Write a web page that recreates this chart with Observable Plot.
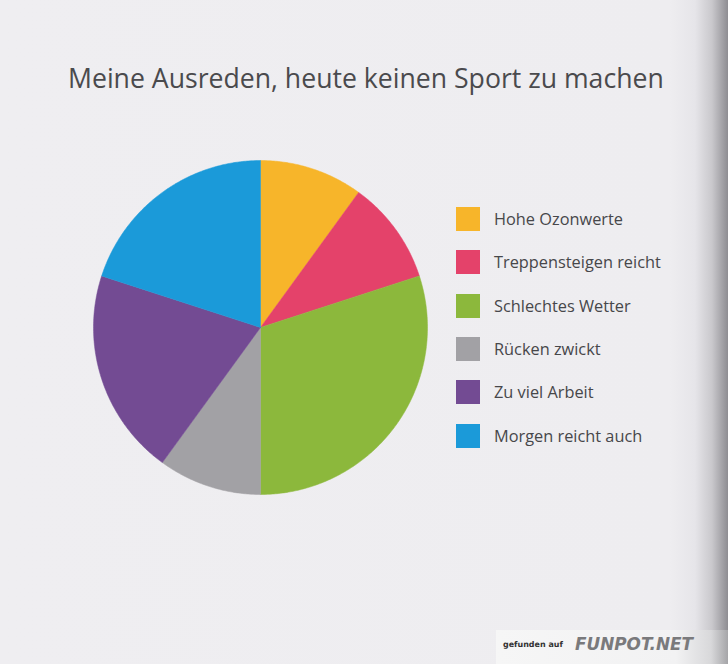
<!DOCTYPE html>
<html>
<head>
<meta charset="utf-8">
<script src="https://cdn.jsdelivr.net/npm/d3@7"></script>
<script src="https://cdn.jsdelivr.net/npm/@observablehq/plot@0.6"></script>
<style>
  html, body { margin: 0; padding: 0; }
  #page {
    position: relative; width: 728px; height: 664px; overflow: hidden;
    background: linear-gradient(to right, #efeef1 0px, #eeedf0 670px, #e6e5e9 695px, #c9c8cc 712px, #8e8d92 728px);
    font-family: "Open Sans", sans-serif;
  }
  #title { position: absolute; left: 68px; top: 60px; color: #4a4a4d; white-space: nowrap; font-size: 28px; }
  #chart { position: absolute; left: 0; top: 0; }
  .lg { position: absolute; left: 456px; display: flex; align-items: center; white-space: nowrap; }
  .sw { width: 24px; height: 24px; margin-right: 14px; }
  .lt { color: #47474a; font-size: 17px; }
  #wm { position: absolute; left: 496px; top: 630px; width: 232px; height: 34px; background: linear-gradient(to right, #f6f6f6 0px, #f2f2f3 180px, #d8d8da 215px, #a5a5a8 232px); }
  #wm1 { position: absolute; left: 7px; top: 10px; font: bold 11px "DejaVu Sans", sans-serif; color: #333; white-space: nowrap; }
  #wm2 { position: absolute; left: 79px; top: 4px; font: italic bold 17px "DejaVu Sans", sans-serif; color: #7a7a7c; white-space: nowrap; }
</style>
</head>
<body>
<div id="page">
  <div id="title">Meine Ausreden, heute keinen Sport zu machen</div>
  <div id="chart"></div>
  <div id="legend"></div>
  <div id="wm"><span id="wm1">gefunden auf</span><span id="wm2">FUNPOT.NET</span></div>
</div>
<script>
const categories = ["Hohe Ozonwerte", "Treppensteigen reicht", "Schlechtes Wetter", "Rücken zwickt", "Zu viel Arbeit", "Morgen reicht auch"];
const values = [10, 10, 30, 10, 20, 20];
const colors = ["#f7b52a", "#e4426a", "#8cb83c", "#a2a1a5", "#734b93", "#1b9ad9"];

// pie angles from the data
const arcs = d3.pie().sort(null).value((d, i) => values[i])(categories);
const pts = [];
arcs.forEach((a, i) => {
  const key = categories[i];
  pts.push({key, x: 0, y: 0});
  const n = Math.max(2, Math.ceil((a.endAngle - a.startAngle) / 0.01));
  for (let k = 0; k <= n; k++) {
    const t = a.startAngle + (a.endAngle - a.startAngle) * k / n;
    pts.push({key, x: Math.sin(t), y: Math.cos(t)});
  }
  pts.push({key, x: 0, y: 0});
});

const chart = Plot.plot({
  width: 728, height: 664,
  margin: 0,
  style: {background: "transparent"},
  x: {domain: [-1, 1], range: [93, 427], axis: null},
  y: {domain: [-1, 1], range: [494, 160], axis: null},
  color: {type: "ordinal", domain: categories, range: colors},
  marks: [
    Plot.line(pts, {x: "x", y: "y", z: "key", fill: "key", stroke: "key", strokeWidth: 0.5, curve: "linear"})
  ]
});
document.getElementById("chart").appendChild(chart);

// legend
const legend = document.getElementById("legend");
categories.forEach((c, i) => {
  const row = document.createElement("div");
  row.className = "lg";
  row.style.top = (207 + i * 43.3) + "px";
  row.style.height = "24px";
  const sw = document.createElement("div");
  sw.className = "sw";
  sw.style.background = colors[i];
  const t = document.createElement("span");
  t.className = "lt";
  t.textContent = c;
  row.appendChild(sw); row.appendChild(t);
  legend.appendChild(row);
});

// fit text widths to the reference
function fit(el, target) {
  const w = el.getBoundingClientRect().width;
  const fs = parseFloat(getComputedStyle(el).fontSize);
  el.style.fontSize = (fs * target / w) + "px";
}
fit(document.getElementById("title"), 596);
fit(document.getElementById("wm1"), 60);
fit(document.getElementById("wm2"), 118);
const lts = document.querySelectorAll(".lt");
const w1 = lts[1].getBoundingClientRect().width;
const fs1 = parseFloat(getComputedStyle(lts[1]).fontSize);
lts.forEach(el => el.style.fontSize = (fs1 * 167 / w1) + "px");
</script>
</body>
</html>
